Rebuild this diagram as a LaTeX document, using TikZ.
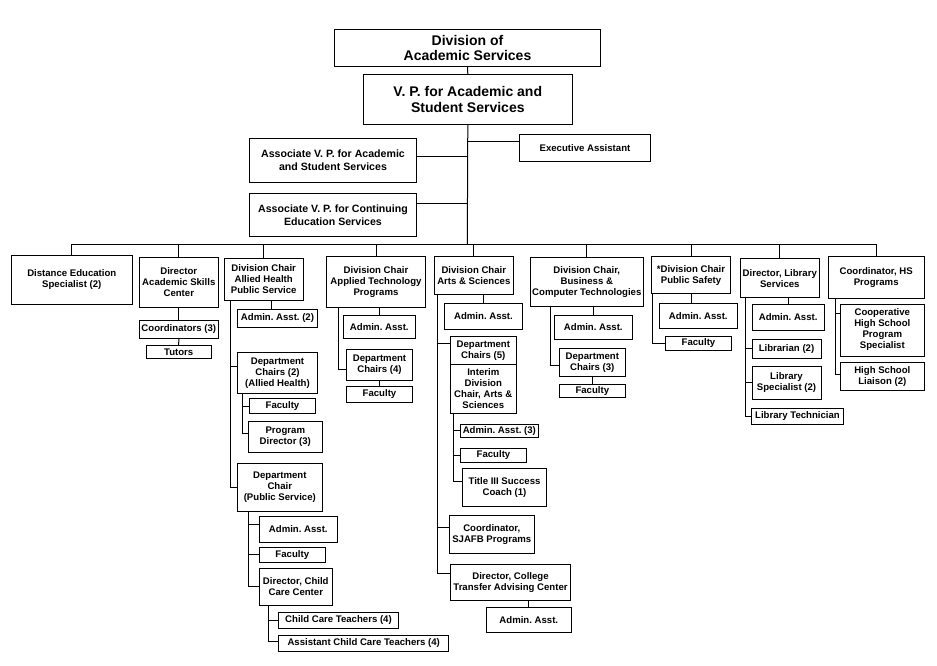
\documentclass[tikz,border=0pt]{standalone}
\usepackage{fontspec}
\setmainfont{Liberation Sans}
\frenchspacing

\begin{document}
\begin{tikzpicture}[x=1pt,y=-1pt,line width=1pt,
    box/.style 2 args={draw,inner sep=0pt,align=center,minimum width=#1,minimum height=#2,
      font=\fontsize{9.6}{11}\selectfont\bfseries},
    big/.style={font=\fontsize{14}{15.5}\selectfont\bfseries},
    mid/.style={font=\fontsize{10.6}{13}\selectfont\bfseries}]
    \useasboundingbox (0,0) rectangle (937,666);

    % top of the chart
    \node[box={265.6}{37.4},big] (div) at (467.5,48) {Division of\\Academic Services};
    \node[box={209}{50},big] (vp) at (467.8,99.3) {V. P. for Academic and\\Student Services};
    \node[box={131.4}{27}] (exec) at (585,147.8) {Executive Assistant};
    \node[box={167.4}{44},mid] (avpa) at (333,160.3) {Associate V. P. for Academic\\and Student Services};
    \node[box={167.4}{43},mid] (avpc) at (333,214.8) {Associate V. P. for Continuing\\Education Services};
    \coordinate (bus) at (467.3,244.3);

    % second row
    \node[box={121}{48.6}] (dist) at (71.8,280) {Distance Education\\Specialist (2)};
    \node[box={79}{50.3}] (dasc) at (178.8,282.2) {Director\\Academic Skills\\Center};
    \node[box={79.3}{42}] (ah) at (263.7,279.3) {Division Chair\\Allied Health\\Public Service};
    \node[box={99.4}{51}] (appl) at (376,281.8) {Division Chair\\Applied Technology\\Programs};
    \node[box={79}{37.6}] (arts) at (473.8,275.5) {Division Chair\\Arts \& Sciences};
    \node[box={113}{49}] (bct) at (586.8,281.8) {Division Chair,\\Business \&\\Computer Technologies};
    \node[box={79.4}{37.3}] (pub) at (691,275.3) {*Division Chair\\Public Safety};
    \node[box={79}{39.3}] (lib) at (779.8,278.3) {Director, Library\\Services};
    \node[box={96.3}{41.7}] (hs) at (876.2,277.2) {Coordinator, HS\\Programs};

    % academic skills center
    \node[box={79}{18.3}] (coord) at (178.8,329.2) {Coordinators (3)};
    \node[box={65.3}{13.3}] (tutors) at (178.7,352.3) {Tutors};

    % allied health, public service
    \node[box={80.4}{18}] (ahadm) at (277.5,318.3) {Admin. Asst. (2)};
    \node[box={80.4}{41}] (ahdc) at (277.5,372.8) {Department\\Chairs (2)\\(Allied Health)};
    \node[box={66.4}{15.4}] (ahfac) at (282.5,406) {Faculty};
    \node[box={74}{31.3}] (ahpd) at (285.3,436.7) {Program\\Director (3)};
    \node[box={85}{47.7}] (dcps) at (279.8,487.2) {Department\\Chair\\(Public Service)};
    \node[box={78}{25.6}] (dcpsadm) at (298.3,529.5) {Admin. Asst.};
    \node[box={66}{15}] (dcpsfac) at (292.3,554.8) {Faculty};
    \node[box={73}{36.3}] (ccdir) at (295.8,586.9) {Director, Child\\Care Center};
    \node[box={119.6}{15.6}] (cct) at (338.5,620.5) {Child Care Teachers (4)};
    \node[box={170}{15.6}] (acct) at (363.7,643.5) {Assistant Child Care Teachers (4)};

    % applied technology
    \node[box={72}{23}] (appladm) at (379.3,326.8) {Admin. Asst.};
    \node[box={66.4}{31}] (appldc) at (379.5,364.8) {Department\\Chairs (4)};
    \node[box={66.4}{15.7}] (applfac) at (379.5,394.2) {Faculty};

    % arts and sciences
    \node[box={78.4}{26}] (artsadm) at (483.5,316.3) {Admin. Asst.};
    \node[box={66}{28}] (artsdc) at (483.3,350.3) {Department\\Chairs (5)};
    \node[box={66}{49}] (artsint) at (483.3,388.8) {Interim\\Division\\Chair, Arts \&\\Sciences};
    \node[box={78.5}{13}] (artsadm3) at (499.3,430.8) {Admin. Asst. (3)};
    \node[box={66.4}{13.6}] (artsfac) at (493.5,455.5) {Faculty};
    \node[box={84.4}{37.7}] (artscoach) at (504.5,487.2) {Title III Success\\Coach (1)};
    \node[box={85}{38}] (artssj) at (491.8,534.3) {Coordinator,\\SJAFB Programs};
    \node[box={119.6}{35.7}] (artsct) at (510.5,582.2) {Director, College\\Transfer Advising Center};
    \node[box={85}{24.7}] (artsctadm) at (528.8,619.7) {Admin. Asst.};

    % business and computer technologies
    \node[box={78}{24}] (bctadm) at (593.3,327.3) {Admin. Asst.};
    \node[box={66}{27.7}] (bctdc) at (592.3,362.2) {Department\\Chairs (3)};
    \node[box={66}{13}] (bctfac) at (592.3,390.8) {Faculty};

    % public safety
    \node[box={78}{25.3}] (pubadm) at (698.3,315.7) {Admin. Asst.};
    \node[box={65.6}{13.6}] (pubfac) at (698.5,343.5) {Faculty};

    % library
    \node[box={72.3}{26}] (libadm) at (788.2,317.3) {Admin. Asst.};
    \node[box={69}{19.3}] (libr) at (786.5,348.7) {Librarian (2)};
    \node[box={69}{32.7}] (libs) at (786.5,382.7) {Library\\Specialist (2)};
    \node[box={92.4}{16.3}] (libt) at (797.5,416.2) {Library Technician};

    % high school programs
    \node[box={84}{52}] (hscoop) at (882.3,330) {Cooperative\\High School\\Program\\Specialist};
    \node[box={84}{28}] (hsliai) at (882.3,376.7) {High School\\Liaison (2)};

    % lines at the top
    \draw (div.south) -- (vp.north);
    \draw (vp.south) -- (bus);
    \draw ([yshift=6.5pt]exec.west) -- ([yshift=6.5pt]exec.west -| bus);
    \draw ([yshift=3.3pt]avpa.east) -- ([yshift=3.3pt]avpa.east -| bus);
    \draw ([yshift=11.8pt]avpc.east) -- ([yshift=11.8pt]avpc.east -| bus);
    \draw (dist.north) -- (dist.north |- bus) -- (hs.north |- bus) -- (hs.north);
    \foreach \n in {dasc,ah,appl,arts,bct,pub,lib}
        \draw (\n.north) -- (\n.north |- bus);

    \draw (dasc.south) -- (coord.north);
    \draw (coord.south) -- (tutors.north);

    \draw ([xshift=-6pt]ahadm.north) -- ([xshift=-6pt]ahadm.north |- ah.south);
    \draw ([xshift=6.7pt]ah.south west) |- ([yshift=6pt]ahdc.west);
    \draw ([xshift=6.7pt]ah.south west) |- (dcps.west);
    \draw ([xshift=6pt]ahdc.south west) |- (ahfac.west);
    \draw ([xshift=6pt]ahdc.south west) |- ([yshift=3pt]ahpd.west);
    \draw ([xshift=11.4pt]dcps.south west) |- ([yshift=5.2pt]dcpsadm.west);
    \draw ([xshift=11.4pt]dcps.south west) |- (dcpsfac.west);
    \draw ([xshift=11.4pt]dcps.south west) |- (ccdir.west);
    \draw ([xshift=9.4pt]ccdir.south west) |- (cct.west);
    \draw ([xshift=9.4pt]ccdir.south west) |- ([yshift=2pt]acct.west);

    \draw (appladm.north) -- (appladm.north |- appl.south);
    \draw ([xshift=13pt]appl.south west) |- ([yshift=-4.5pt]appldc.west);
    \draw (appldc.south) -- (applfac.north);

    \draw (artsadm.north) -- (artsadm.north |- arts.south);
    \draw ([xshift=4pt]arts.south west) |- ([yshift=7pt]artsdc.west);
    \draw ([xshift=4pt]arts.south west) |- ([yshift=6.6pt]artssj.west);
    \draw ([xshift=4pt]arts.south west) |- ([yshift=8.5pt]artsct.west);
    \draw ([xshift=3.7pt]artsint.south west) |- (artsadm3.west);
    \draw ([xshift=3.7pt]artsint.south west) |- (artsfac.west);
    \draw ([xshift=3.7pt]artsint.south west) |- ([yshift=5.5pt]artscoach.west);
    \draw (artsctadm.north) -- (artsctadm.north |- artsct.south);

    \draw (bctadm.north) -- (bctadm.north |- bct.south);
    \draw ([xshift=21pt]bct.south west) |- ([yshift=-3pt]bctdc.west);
    \draw (bctdc.south) -- (bctfac.north);

    \draw (pub.south) -- (pub.south |- pubadm.north);
    \draw ([xshift=1.7pt]pub.south west) |- (pubfac.west);

    \draw (libadm.north) -- (libadm.north |- lib.south);
    \draw ([xshift=5.4pt]lib.south west) |- (libr.west);
    \draw ([xshift=5.4pt]lib.south west) |- (libs.west);
    \draw ([xshift=5.4pt]lib.south west) |- (libt.west);

    \draw ([xshift=7.7pt]hs.south west) |- ([yshift=16.7pt]hscoop.west);
    \draw ([xshift=7.7pt]hs.south west) |- ([yshift=2.4pt]hsliai.west);
\end{tikzpicture}
\end{document}
